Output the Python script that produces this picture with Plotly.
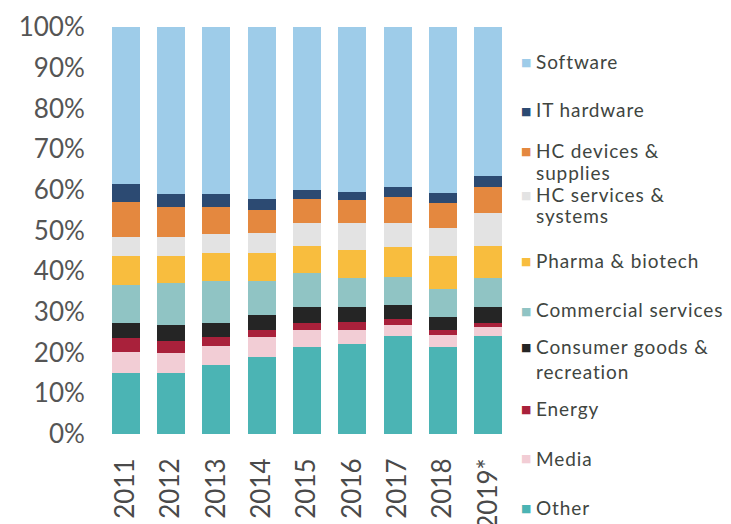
import plotly.graph_objects as go

years = ["2011", "2012", "2013", "2014", "2015", "2016", "2017", "2018", "2019*"]

# Sector shares (% of total) per year, bottom of the stack first
other = [15.1, 15.1, 17.0, 18.8, 21.4, 22.1, 24.2, 21.4, 24.1]
media = [5.1, 4.9, 4.6, 5.0, 4.2, 3.5, 2.6, 2.9, 2.1]
energy = [3.3, 2.9, 2.2, 1.8, 1.6, 2.0, 1.4, 1.3, 1.1]
consumer = [3.8, 3.9, 3.5, 3.6, 4.1, 3.7, 3.5, 3.2, 4.0]
commercial = [9.3, 10.2, 10.4, 8.5, 8.3, 7.0, 6.8, 6.8, 7.0]
pharma = [7.1, 6.7, 6.7, 6.8, 6.6, 6.9, 7.5, 8.1, 7.9]
hc_services = [4.8, 4.8, 4.7, 4.8, 5.6, 6.6, 5.8, 6.8, 8.2]
hc_devices = [8.6, 7.2, 6.6, 5.7, 5.9, 5.7, 6.5, 6.3, 6.4]
it_hardware = [4.3, 3.2, 3.2, 2.7, 2.3, 2.0, 2.5, 2.5, 2.6]
software = [38.6, 41.1, 41.1, 42.3, 40.0, 40.5, 39.2, 40.7, 36.6]

# (legend label lines, values, colour)
sectors = [
    (["Other"], other, "#4bb4b4"),
    (["Media"], media, "#f2cdd5"),
    (["Energy"], energy, "#a9213b"),
    (["Consumer goods &", "recreation"], consumer, "#252525"),
    (["Commercial services"], commercial, "#90c4c4"),
    (["Pharma & biotech"], pharma, "#f8bd3e"),
    (["HC services &", "systems"], hc_services, "#e3e3e3"),
    (["HC devices &", "supplies"], hc_devices, "#e4883f"),
    (["IT hardware"], it_hardware, "#2c4a72"),
    (["Software"], software, "#9ecce9"),
]

# Pixel rows of each legend text line, keyed by the entry's first line
legend_rows = {
    "Software": [62],
    "IT hardware": [110],
    "HC devices &": [150, 172],
    "HC services &": [194, 215],
    "Pharma & biotech": [260],
    "Commercial services": [310],
    "Consumer goods &": [346, 371],
    "Energy": [408],
    "Media": [458],
    "Other": [507],
}

W, H = 731, 524
M_L, M_R, M_T, M_B = 103, 220, 27, 90
PW, PH = W - M_L - M_R, H - M_T - M_B


def px_x(px):
    return (px - M_L) / PW


def px_y(py):
    return (H - M_B - py) / PH


fig = go.Figure()
for lines, vals, color in sectors:
    fig.add_trace(go.Bar(
        x=years, y=vals, name=" ".join(lines),
        marker=dict(color=color, line=dict(width=0)),
        showlegend=False,
    ))

annotations = []
for lines, vals, color in sectors:
    rows = legend_rows[lines[0]]
    annotations.append(dict(
        xref="paper", yref="paper",
        x=px_x(519), y=px_y(rows[0] + 1), xanchor="left", yanchor="middle",
        text="■", showarrow=False,
        font=dict(family="DejaVu Sans", size=11, color=color),
    ))
    for line, py in zip(lines, rows):
        annotations.append(dict(
            xref="paper", yref="paper",
            x=px_x(534), y=px_y(py), xanchor="left", yanchor="middle",
            text="<span style='letter-spacing:0.9px'>%s</span>" % line,
            showarrow=False, align="left",
            font=dict(family="Lato", size=19, color="#40453f"),
        ))

fig.update_layout(
    barmode="stack",
    bargap=0.38,
    width=W, height=H,
    margin=dict(l=M_L, r=M_R, t=M_T, b=M_B),
    paper_bgcolor="white",
    plot_bgcolor="white",
    annotations=annotations,
    font=dict(family="Lato", color="#555555"),
)
fig.update_xaxes(
    type="category",
    tickangle=-90,
    tickfont=dict(family="Lato", size=26, color="#4a4a4a"),
    showgrid=False, showline=False, zeroline=False,
    ticks="outside", ticklen=13, tickcolor="rgba(0,0,0,0)",
    automargin=False,
)
fig.update_yaxes(
    range=[0, 100],
    dtick=10,
    ticksuffix="%",
    tickfont=dict(family="Lato", size=26, color="#555555"),
    showgrid=False, showline=False, zeroline=False,
    ticks="outside", ticklen=12, tickcolor="rgba(0,0,0,0)",
    automargin=False,
)

fig.write_html("out.html")
